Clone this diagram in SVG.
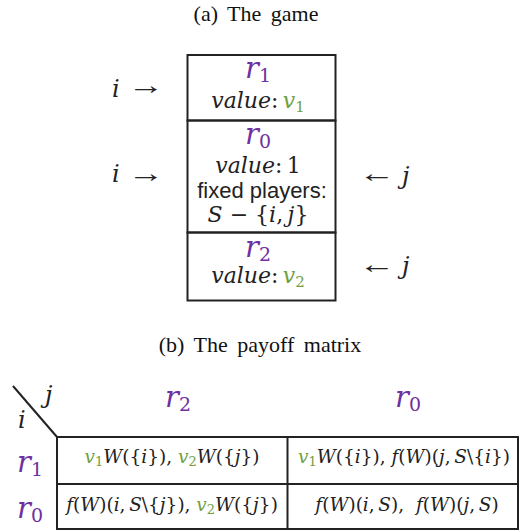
<svg xmlns="http://www.w3.org/2000/svg" width="522" height="531" viewBox="0 0 522 531">
<style>
.cap{font-family:"Liberation Serif",serif;font-size:22px;fill:#111;word-spacing:4px}
.m{font-family:"DejaVu Serif",serif;fill:#222}
.it{font-style:italic}
.big{font-size:29px}
.val{font-size:22px}
.cell{font-size:18.5px}
.arr{font-family:"Liberation Serif",serif;font-size:26px;fill:#222}
.sans{font-family:"Liberation Sans",sans-serif;font-size:22px;fill:#222}
.pu{fill:#7030A0}
.gr{fill:#70A040}
.ln{stroke:#222;stroke-width:2;fill:none}
</style>
<text class="cap" x="256" y="21" text-anchor="middle">(a) The game</text>
<g id="box-r1">
<rect class="ln" x="187.5" y="55" width="148" height="65.5"/>
<text class="m big it pu" x="258" y="78" text-anchor="middle">r<tspan font-style="normal" font-size="19" dy="4">1</tspan></text>
<text class="m val" x="258" y="108" text-anchor="middle"><tspan class="it">value</tspan>:&#8201;<tspan class="it gr">v</tspan><tspan class="gr" font-size="15" dy="4">1</tspan></text>
</g>
<g id="box-r0">
<rect class="ln" x="187.5" y="120.5" width="148" height="112"/>
<text class="m big it pu" x="258" y="144" text-anchor="middle">r<tspan font-style="normal" font-size="19" dy="4">0</tspan></text>
<text class="m val" x="258" y="173" text-anchor="middle"><tspan class="it">value</tspan>:&#8201;1</text>
<text class="sans" x="262" y="198" text-anchor="middle">fixed players:</text>
<text class="m val" x="258" y="222" text-anchor="middle"><tspan class="it">S</tspan> − {<tspan class="it">i</tspan>,&#8201;<tspan class="it">j</tspan>}</text>
</g>
<g id="box-r2">
<rect class="ln" x="187.5" y="232.5" width="148" height="68"/>
<text class="m big it pu" x="258" y="257" text-anchor="middle">r<tspan font-style="normal" font-size="19" dy="4">2</tspan></text>
<text class="m val" x="258" y="283" text-anchor="middle"><tspan class="it">value</tspan>:&#8201;<tspan class="it gr">v</tspan><tspan class="gr" font-size="15" dy="4">2</tspan></text>
</g>
<g id="players-left">
<text class="m it" font-size="24" x="112" y="97">i</text>
<text class="arr" transform="translate(128,94) scale(1.4,1)">→</text>
<text class="m it" font-size="24" x="112" y="182">i</text>
<text class="arr" transform="translate(128,182) scale(1.4,1)">→</text>
</g>
<g id="players-right">
<text class="arr" transform="translate(359,182) scale(1.4,1)">←</text>
<text class="m it" font-size="24" x="402" y="184">j</text>
<text class="arr" transform="translate(359,273) scale(1.4,1)">←</text>
<text class="m it" font-size="24" x="402" y="274">j</text>
</g>
<text class="cap" x="260" y="352" text-anchor="middle">(b) The payoff matrix</text>
<g id="matrix-header">
<line class="ln" x1="13" y1="386" x2="57" y2="437"/>
<text class="m it" font-size="24" x="45" y="403">j</text>
<text class="m it" font-size="24" x="18" y="428">i</text>
<text class="m big it pu" x="178" y="407" text-anchor="middle">r<tspan font-style="normal" font-size="19" dy="4">2</tspan></text>
<text class="m big it pu" x="408" y="407" text-anchor="middle">r<tspan font-style="normal" font-size="19" dy="4">0</tspan></text>
<text class="m big it pu" x="30" y="472" text-anchor="middle">r<tspan font-style="normal" font-size="19" dy="4">1</tspan></text>
<text class="m big it pu" x="30" y="518" text-anchor="middle">r<tspan font-style="normal" font-size="19" dy="4">0</tspan></text>
</g>
<g id="matrix-table">
<rect class="ln" x="57" y="437" width="461" height="92"/>
<line class="ln" x1="57" y1="484" x2="518" y2="484"/>
<line class="ln" x1="287.5" y1="437" x2="287.5" y2="529"/>
<text class="m cell" x="172" y="463" text-anchor="middle"><tspan class="it gr">v</tspan><tspan class="gr" font-size="13" dy="3">1</tspan><tspan class="it" dy="-3">W</tspan>({<tspan class="it">i</tspan>}), <tspan class="it gr">v</tspan><tspan class="gr" font-size="13" dy="3">2</tspan><tspan class="it" dy="-3">W</tspan>({<tspan class="it">j</tspan>})</text>
<text class="m cell" x="404" y="463" text-anchor="middle"><tspan class="it gr">v</tspan><tspan class="gr" font-size="13" dy="3">1</tspan><tspan class="it" dy="-3">W</tspan>({<tspan class="it">i</tspan>}), <tspan class="it">f</tspan>(<tspan class="it">W</tspan>)(<tspan class="it">j</tspan>,&#8201;<tspan class="it">S</tspan>\{<tspan class="it">i</tspan>})</text>
<text class="m cell" x="172" y="511" text-anchor="middle"><tspan class="it">f</tspan>(<tspan class="it">W</tspan>)(<tspan class="it">i</tspan>,&#8201;<tspan class="it">S</tspan>\{<tspan class="it">j</tspan>}), <tspan class="it gr">v</tspan><tspan class="gr" font-size="13" dy="3">2</tspan><tspan class="it" dy="-3">W</tspan>({<tspan class="it">j</tspan>})</text>
<text class="m cell" x="407" y="511" text-anchor="middle"><tspan class="it">f</tspan>(<tspan class="it">W</tspan>)(<tspan class="it">i</tspan>,&#8201;<tspan class="it">S</tspan>),&#160; <tspan class="it">f</tspan>(<tspan class="it">W</tspan>)(<tspan class="it">j</tspan>,&#8201;<tspan class="it">S</tspan>)</text>
</g>
</svg>
